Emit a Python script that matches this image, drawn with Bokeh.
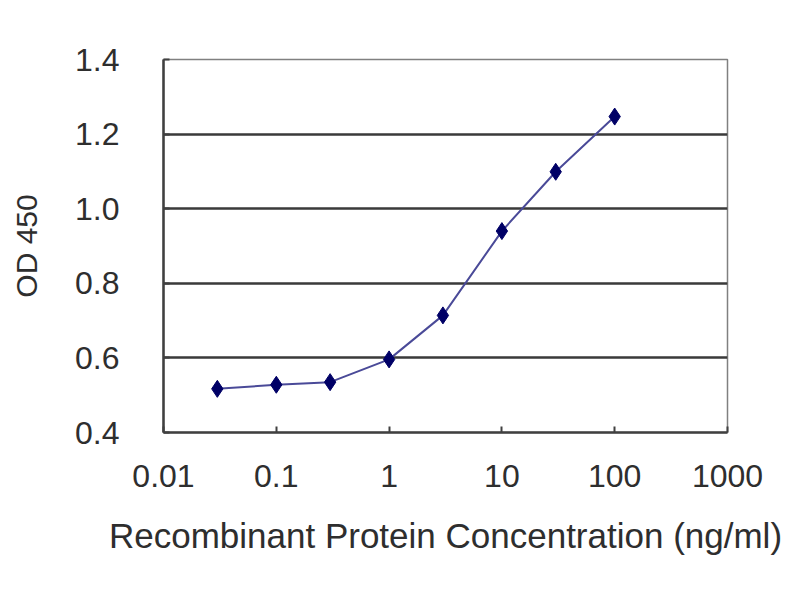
from bokeh.plotting import figure
from bokeh.models import FixedTicker, CustomJSTickFormatter, NumeralTickFormatter
from bokeh.embed import file_html
from bokeh.resources import INLINE

# concentration (ng/ml) and OD 450
concentracao = [0.03, 0.1, 0.3, 1, 3, 10, 30, 100]
od450 = [0.517, 0.528, 0.535, 0.596, 0.714, 0.940, 1.099, 1.247]

x_ticks = [0.01, 0.1, 1, 10, 100, 1000]
y_ticks = [0.4, 0.6, 0.8, 1.0, 1.2, 1.4]

fonte = "Liberation Sans"
cor_texto = "#2e2e2e"

p = figure(width=784, height=584, x_axis_type="log", x_range=(0.01, 1000), y_range=(0.4, 1.4),
           output_backend="svg", toolbar_location=None,
           x_axis_label="Recombinant Protein Concentration (ng/ml)", y_axis_label="OD 450")
p.min_border_left = 163
p.min_border_right = 57
p.min_border_top = 59
p.min_border_bottom = 152
p.outline_line_color = "#808080"
p.outline_line_width = 1.5

p.xgrid.visible = False
p.ygrid.ticker = FixedTicker(ticks=y_ticks)
p.ygrid.grid_line_color = "#3a3a3a"
p.ygrid.grid_line_width = 2.5

p.xaxis.ticker = FixedTicker(ticks=x_ticks, minor_ticks=[])
p.xaxis.formatter = CustomJSTickFormatter(code="return tick.toString();")
p.yaxis.ticker = FixedTicker(ticks=y_ticks, minor_ticks=[])
p.yaxis.formatter = NumeralTickFormatter(format="0.0")

for eixo in (p.xaxis, p.yaxis):
    eixo.axis_line_color = "#404040"
    eixo.axis_line_width = 2.5
    eixo.major_tick_in = 6
    eixo.major_tick_out = 0
    eixo.major_tick_line_color = "#404040"
    eixo.major_tick_line_width = 2
    eixo.minor_tick_line_color = None
    eixo.major_label_text_font = fonte
    eixo.major_label_text_font_size = "32px"
    eixo.major_label_text_color = cor_texto
    eixo.axis_label_text_font = fonte
    eixo.axis_label_text_font_style = "normal"
    eixo.axis_label_text_color = cor_texto

p.xaxis.axis_label_text_font_size = "35px"
p.yaxis.axis_label_text_font_size = "30px"
p.xaxis.major_label_standoff = 32
p.xaxis.axis_label_standoff = 26
p.yaxis.major_label_standoff = 44
p.yaxis.axis_label_standoff = 29

p.line(concentracao, od450, line_color="#4a4a98", line_width=2)
p.scatter(concentracao, od450, marker="diamond", size=17, fill_color="#000066", line_color="#000066")

open("out.html", "w").write(file_html(p, INLINE))
